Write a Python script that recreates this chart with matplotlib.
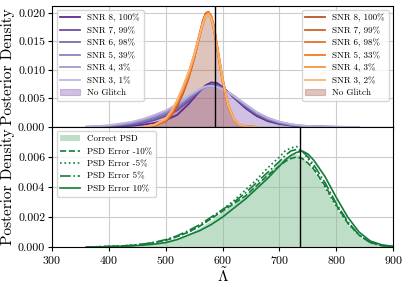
import numpy as np
import matplotlib
matplotlib.use("Agg")
import matplotlib.pyplot as plt

plt.rcParams['font.family'] = ['cmr10', 'DejaVu Serif']
plt.rcParams['mathtext.fontset'] = 'cm'
plt.rcParams['axes.formatter.use_mathtext'] = True

# top panel: glitch study, purple and orange posteriors
snr_x = [360, 380, 400, 420, 440, 460, 480, 500, 520, 540, 560, 570, 580, 590, 600,
         620, 640, 660, 680, 700, 720, 740, 760, 780, 800, 820, 840]
purple_labels = ['SNR 8, 100%', 'SNR 7, 99%', 'SNR 6, 98%', 'SNR 5, 39%', 'SNR 4, 3%', 'SNR 3, 1%']
purple_snr8 = [0, 0.00002, 0.00005, 0.0001, 0.0002, 0.0004, 0.0007, 0.0012, 0.0021, 0.0040, 0.0063, 0.0073, 0.0078, 0.0077, 0.0070,
               0.0051, 0.0033, 0.0019, 0.0010, 0.0005, 0.00025, 0.0001, 0.00005, 0.00002, 0, 0, 0]
purple_snr7 = [0, 0.00003, 0.0001, 0.0002, 0.0004, 0.0007, 0.0012, 0.0019, 0.0029, 0.0045, 0.0064, 0.0071, 0.0075, 0.0074, 0.0069,
               0.0052, 0.0035, 0.0021, 0.0012, 0.0006, 0.0003, 0.00015, 0.00007, 0.00003, 0.00001, 0, 0]
purple_snr6 = [0, 0.00005, 0.00015, 0.0003, 0.0005, 0.0009, 0.0015, 0.0022, 0.0033, 0.0048, 0.0064, 0.0070, 0.0073, 0.0072, 0.0068,
               0.0053, 0.0037, 0.0023, 0.0013, 0.0007, 0.00035, 0.00018, 0.00009, 0.00004, 0.00002, 0, 0]
purple_snr5 = [0.00002, 0.00008, 0.0002, 0.0004, 0.0007, 0.0011, 0.0017, 0.0025, 0.0036, 0.0051, 0.0065, 0.0070, 0.0072, 0.0071, 0.0067,
               0.0054, 0.0038, 0.0024, 0.0014, 0.0008, 0.0004, 0.0002, 0.0001, 0.00005, 0.00002, 0, 0]
purple_snr4 = [0.00003, 0.0001, 0.00025, 0.0005, 0.0008, 0.0013, 0.0019, 0.0027, 0.0038, 0.0053, 0.0066, 0.0070, 0.0071, 0.0070, 0.0066,
               0.0054, 0.0039, 0.0025, 0.0015, 0.0009, 0.00045, 0.00022, 0.0001, 0.00005, 0.00002, 0.00001, 0]
purple_snr3 = [0.00005, 0.00015, 0.0003, 0.0006, 0.0009, 0.0014, 0.0021, 0.0029, 0.0040, 0.0055, 0.0067, 0.0071, 0.0072, 0.0070, 0.0066,
               0.0054, 0.0040, 0.0026, 0.0016, 0.0009, 0.0005, 0.00025, 0.00012, 0.00006, 0.00003, 0.00001, 0]
purple_noglitch = [0.00003, 0.0001, 0.00025, 0.0005, 0.0008, 0.0013, 0.0019, 0.0027, 0.0038, 0.0052, 0.0065, 0.0070, 0.0072, 0.0071, 0.0068,
                   0.0056, 0.0041, 0.0027, 0.0017, 0.0010, 0.0006, 0.0003, 0.00016, 0.00008, 0.00004, 0.00002, 0]

loud_x = [460, 480, 500, 510, 520, 530, 540, 550, 560, 565, 570, 575, 580, 585, 590, 600, 610, 620, 630, 640, 660]
orange_labels = ['SNR 8, 100%', 'SNR 7, 99%', 'SNR 6, 98%', 'SNR 5, 33%', 'SNR 4, 3%', 'SNR 3, 2%']
orange_snr8 = [0, 0.0002, 0.0010, 0.0020, 0.0036, 0.0058, 0.0085, 0.0120, 0.0163, 0.0185, 0.0199, 0.0202, 0.0194, 0.0173, 0.0143, 0.0083, 0.0037, 0.0013, 0.0004, 0.0001, 0]
orange_snr7 = [0, 0.0003, 0.0012, 0.0024, 0.0042, 0.0066, 0.0093, 0.0126, 0.0166, 0.0186, 0.0198, 0.0199, 0.0189, 0.0168, 0.0138, 0.0079, 0.0035, 0.0012, 0.0004, 0.0001, 0]
orange_snr6 = [0, 0.0002, 0.0011, 0.0022, 0.0040, 0.0062, 0.0088, 0.0121, 0.0160, 0.0180, 0.0195, 0.0201, 0.0195, 0.0176, 0.0146, 0.0086, 0.0039, 0.0014, 0.0004, 0.0001, 0]
orange_snr5 = [0, 0.0003, 0.0014, 0.0027, 0.0046, 0.0069, 0.0095, 0.0127, 0.0165, 0.0183, 0.0196, 0.0198, 0.0191, 0.0171, 0.0141, 0.0081, 0.0036, 0.0012, 0.0004, 0.0001, 0]
orange_snr4 = [0, 0.0003, 0.0013, 0.0026, 0.0044, 0.0066, 0.0091, 0.0123, 0.0161, 0.0181, 0.0196, 0.0200, 0.0193, 0.0173, 0.0144, 0.0084, 0.0038, 0.0013, 0.0004, 0.0001, 0]
orange_snr3 = [0, 0.0004, 0.0015, 0.0028, 0.0047, 0.0070, 0.0096, 0.0127, 0.0164, 0.0182, 0.0194, 0.0197, 0.0190, 0.0171, 0.0142, 0.0083, 0.0037, 0.0013, 0.0004, 0.0001, 0]
orange_noglitch = [0, 0.0003, 0.0012, 0.0024, 0.0042, 0.0064, 0.0090, 0.0122, 0.0161, 0.0180, 0.0193, 0.0196, 0.0190, 0.0171, 0.0142, 0.0082, 0.0036, 0.0013, 0.0004, 0.0001, 0]

# bottom panel: PSD error study
psd_x = [360, 380, 400, 420, 440, 460, 480, 500, 520, 540, 560, 580, 600, 620, 640, 660, 680, 700,
         710, 720, 730, 740, 750, 760, 780, 800, 820, 840, 860, 880, 900]
psd_correct = [0, 0.00002, 0.00004, 0.00006, 0.0001, 0.00016, 0.00025, 0.0004, 0.0006, 0.0009, 0.0013, 0.0018, 0.0024, 0.0029, 0.0035, 0.0042, 0.0050, 0.0057,
               0.0060, 0.0062, 0.0062, 0.0060, 0.0056, 0.0051, 0.0039, 0.0026, 0.0015, 0.0007, 0.0003, 0.0001, 0.00003]
psd_m10 = [0, 0.00002, 0.00004, 0.00007, 0.00011, 0.00018, 0.0003, 0.00045, 0.0007, 0.0010, 0.0014, 0.0019, 0.0024, 0.0029, 0.0034, 0.0041, 0.0048, 0.0054,
           0.0057, 0.0059, 0.0060, 0.0059, 0.0056, 0.0052, 0.0041, 0.0028, 0.0016, 0.0008, 0.0003, 0.0001, 0.00003]
psd_m5 = [0, 0.00002, 0.00004, 0.00007, 0.00011, 0.00018, 0.0003, 0.00045, 0.0007, 0.0010, 0.0014, 0.0019, 0.0025, 0.0031, 0.0038, 0.0045, 0.0053, 0.0060,
          0.0064, 0.0066, 0.0067, 0.0064, 0.0059, 0.0053, 0.0040, 0.0027, 0.0016, 0.0008, 0.0003, 0.0001, 0.00003]
psd_p5 = [0, 0.00002, 0.00004, 0.00007, 0.00012, 0.0002, 0.00032, 0.0005, 0.00075, 0.0011, 0.0015, 0.0020, 0.0025, 0.0030, 0.0036, 0.0043, 0.0050, 0.0057,
          0.0061, 0.0064, 0.0065, 0.0064, 0.0060, 0.0055, 0.0043, 0.0029, 0.0017, 0.0008, 0.0003, 0.0001, 0.00003]
psd_p10 = [0, 0.00001, 0.00003, 0.00005, 0.00008, 0.00013, 0.0002, 0.0003, 0.0005, 0.0008, 0.0011, 0.0015, 0.0020, 0.0026, 0.0032, 0.0039, 0.0046, 0.0054,
           0.0058, 0.0061, 0.0063, 0.0064, 0.0062, 0.0058, 0.0047, 0.0033, 0.0020, 0.0010, 0.0004, 0.00015, 0.00005]
psd_labels = ['PSD Error -10%', 'PSD Error -5%', 'PSD Error 5%', 'PSD Error 10%']

true_top = 587
true_bottom = 736

purple_cols = ['#5c2d91', '#6a51a3', '#7a6bb3', '#8a82be', '#a29bcd', '#bcb6df']
orange_cols = ['#b8552b', '#d2602a', '#e8702a', '#f57a1f', '#fb933f', '#fdb26e']
green = '#137c3a'

fig = plt.figure(figsize=(4.07, 2.84), dpi=100)
ax1 = fig.add_axes([0.128, 0.553, 0.838, 0.426])
ax2 = fig.add_axes([0.128, 0.130, 0.838, 0.423])

# top
purple_curves = [purple_snr8, purple_snr7, purple_snr6, purple_snr5, purple_snr4, purple_snr3]
orange_curves = [orange_snr8, orange_snr7, orange_snr6, orange_snr5, orange_snr4, orange_snr3]
h_purple = []
for y, c, lab in zip(purple_curves, purple_cols, purple_labels):
    h, = ax1.plot(snr_x, y, color=c, lw=1.3, label=lab)
    h_purple.append(h)
fp = ax1.fill_between(snr_x, purple_noglitch, color='#8a63b8', alpha=0.4, edgecolor='#8a63b8', lw=0.8, label='No Glitch')
h_purple.append(fp)

h_orange = []
for y, c, lab in zip(orange_curves, orange_cols, orange_labels):
    h, = ax1.plot(loud_x, y, color=c, lw=1.3, label=lab)
    h_orange.append(h)
fo = ax1.fill_between(loud_x, orange_noglitch, color='#a5573f', alpha=0.35, edgecolor='#a5573f', lw=0.8, label='No Glitch')
h_orange.append(fo)

ax1.axvline(true_top, color='k', lw=1)
ax1.set_xlim(300, 900)
ax1.set_ylim(0, 0.0212)
ax1.set_yticks([0, 0.005, 0.010, 0.015, 0.020])
ax1.set_yticklabels(['0.000', '0.005', '0.010', '0.015', '0.020'])
ax1.set_xticks([300, 400, 500, 600, 700, 800, 900])
ax1.tick_params(labelbottom=False, labelsize=8.5, length=3, pad=2)
ax1.grid(color='#cccccc', lw=0.8)
ax1.set_axisbelow(True)
ax1.set_ylabel('Posterior Density', fontsize=11, labelpad=2)

leg1 = ax1.legend(handles=h_purple, loc='upper left', fontsize=6.5, labelspacing=0.45,
                  handlelength=2.2, borderpad=0.4, framealpha=0.8)
ax1.add_artist(leg1)
ax1.legend(handles=h_orange, loc='upper right', fontsize=6.5, labelspacing=0.45,
           handlelength=2.2, borderpad=0.4, framealpha=0.8)

# bottom
ax2.fill_between(psd_x, psd_correct, color='#7fbf93', alpha=0.5, lw=0, label='Correct PSD')
ax2.plot(psd_x, psd_m10, color=green, lw=1.2, ls='--', label=psd_labels[0])
ax2.plot(psd_x, psd_m5, color=green, lw=1.2, ls=':', label=psd_labels[1])
ax2.plot(psd_x, psd_p5, color=green, lw=1.2, ls='-.', label=psd_labels[2])
ax2.plot(psd_x, psd_p10, color=green, lw=1.2, ls='-', label=psd_labels[3])
ax2.axvline(true_bottom, color='k', lw=1)
ax2.set_xlim(300, 900)
ax2.set_ylim(0, 0.008)
ax2.set_yticks([0, 0.002, 0.004, 0.006])
ax2.set_yticklabels(['0.000', '0.002', '0.004', '0.006'])
ax2.set_xticks([300, 400, 500, 600, 700, 800, 900])
ax2.tick_params(labelsize=8.5, length=3, pad=2)
ax2.grid(color='#cccccc', lw=0.8)
ax2.set_axisbelow(True)
ax2.set_ylabel('Posterior Density', fontsize=11, labelpad=2)
ax2.set_xlabel(r'$\tilde{\Lambda}$', fontsize=11, labelpad=0)
ax2.legend(loc='upper left', fontsize=6.5, labelspacing=0.45, handlelength=2.2,
           borderpad=0.4, framealpha=0.8)

fig.savefig('out.png', dpi=100)
